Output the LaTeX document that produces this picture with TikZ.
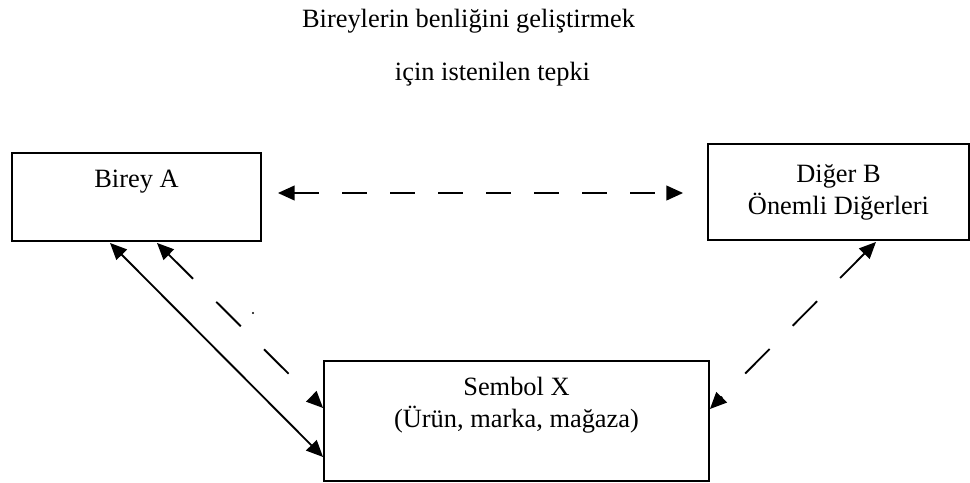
\documentclass[tikz,border=0pt]{standalone}
\usepackage{fontspec}
\setmainfont{Liberation Serif}
\usetikzlibrary{arrows.meta,calc}

\tikzset{every picture/.style={line width=1.4pt}}
\tikzset{
  kutu/.style={draw, inner sep=0pt, align=center, font=\fontsize{19.8}{23.6}\selectfont},
  yazi/.style={inner sep=0pt, anchor=base, font=\fontsize{19.8}{23.6}\selectfont},
  ok/.style={{Triangle[length=12.5pt,width=11pt]}-{Triangle[length=12.5pt,width=11pt]}},
  kesik/.style={ok, dash pattern=on 18.75pt off 17.25pt},
  capraz/.style={ok, dash pattern=on 26pt off 24.5pt},
}

\begin{document}
\begin{tikzpicture}[x=0.75pt,y=0.75pt,yscale=-1,xscale=1]
\useasboundingbox (0,0) rectangle (970,482);

% Text Node
\node[yazi] (baslik1) at (468.5,27) {Bireylerin benliğini geliştirmek};
% Text Node
\node[yazi] (baslik2) at (492.5,80) {için istenilen tepki};

%Shape: Rectangle
\node[kutu, minimum width=186.75pt, minimum height=66pt] (birey) at (136.5,197) {\strut Birey A\\\strut};
%Shape: Rectangle
\node[kutu, minimum width=195.75pt, minimum height=72pt] (diger) at (838.5,192) {\strut Diğer B\\\strut Önemli Diğerleri};
%Shape: Rectangle
\node[kutu, minimum width=288.75pt, minimum height=90pt] (sembol) at (516.5,421) {\strut Sembol X\\\strut (Ürün, marka, mağaza)\\\strut};

%Straight Lines
\draw[kesik] ($(birey.east)+(16,-4)$) -- ($(diger.west)+(-24,1)$);
%Straight Lines
\draw[ok] ($(birey.south)+(-26.5,1)$) -- ($(sembol.west)+(0,36)$);
%Straight Lines
\draw[capraz] ($(birey.south)+(20.5,1)$) -- ($(sembol.west)+(0,-13)$);
%Straight Lines
\draw[capraz] ($(diger.south)+(37.5,1)$) -- ($(sembol.east)+(0,-12)$);

\fill (253,313) circle [radius=1.2];

\end{tikzpicture}
\end{document}
